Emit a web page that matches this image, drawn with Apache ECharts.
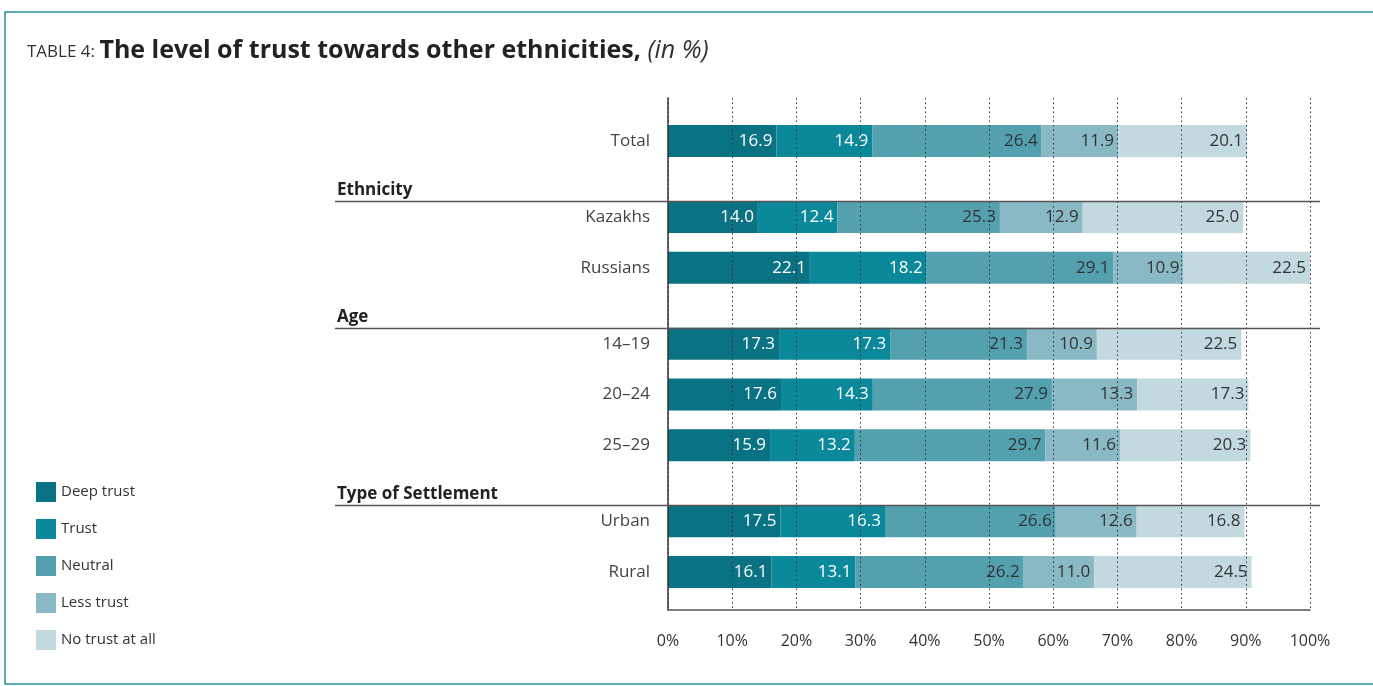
<!DOCTYPE html>
<html>
<head>
<meta charset="utf-8">
<script src="https://cdn.jsdelivr.net/npm/echarts@6/dist/echarts.min.js"></script>
<style>
  html, body { margin: 0; padding: 0; background: #fff; }
  #chart { width: 1373px; height: 686px; }
</style>
</head>
<body>
<div id="chart"></div>
<script>
// Row slots on the category axis: '' is spacing, '#' prefix marks a group heading
const rows = ['', 'Total', '', '#Ethnicity', 'Kazakhs', '', 'Russians', '', '#Age', '14–19', '', '20–24', '', '25–29', '', '#Type of Settlement', 'Urban', '', 'Rural', ''];

const seriesNames = ['Deep trust', 'Trust', 'Neutral', 'Less trust', 'No trust at all'];

// Values per group row, in %
const deepTrust = { 'Total': 16.9, 'Kazakhs': 14.0, 'Russians': 22.1, '14–19': 17.3, '20–24': 17.6, '25–29': 15.9, 'Urban': 17.5, 'Rural': 16.1 };
const trust     = { 'Total': 14.9, 'Kazakhs': 12.4, 'Russians': 18.2, '14–19': 17.3, '20–24': 14.3, '25–29': 13.2, 'Urban': 16.3, 'Rural': 13.1 };
const neutral   = { 'Total': 26.4, 'Kazakhs': 25.3, 'Russians': 29.1, '14–19': 21.3, '20–24': 27.9, '25–29': 29.7, 'Urban': 26.6, 'Rural': 26.2 };
const lessTrust = { 'Total': 11.9, 'Kazakhs': 12.9, 'Russians': 10.9, '14–19': 10.9, '20–24': 13.3, '25–29': 11.6, 'Urban': 12.6, 'Rural': 11.0 };
const noTrust   = { 'Total': 20.1, 'Kazakhs': 25.0, 'Russians': 22.5, '14–19': 22.5, '20–24': 17.3, '25–29': 20.3, 'Urban': 16.8, 'Rural': 24.5 };

const xTicks = [0, 10, 20, 30, 40, 50, 60, 70, 80, 90, 100];

const colors = ['#0a7383', '#0b899a', '#53a0af', '#89b9c4', '#c2dadf'];
const labelColors = ['#ffffff', '#ffffff', '#333333', '#333333', '#333333'];
const seriesValues = [deepTrust, trust, neutral, lessTrust, noTrust];

const FONT = '"Open Sans", "Noto Sans", sans-serif';
const BAR_W = 32;

const chart = echarts.init(document.getElementById('chart'), null, { renderer: 'canvas' });

const series = seriesNames.map((name, i) => ({
  name: name,
  type: 'bar',
  stack: 'trust',
  barWidth: BAR_W,
  xAxisIndex: 0,
  yAxisIndex: 0,
  itemStyle: { color: colors[i] },
  label: {
    show: true,
    position: 'insideRight',
    distance: 4,
    color: labelColors[i],
    fontFamily: FONT,
    fontSize: 17,
    formatter: p => p.value == null ? '' : p.value.toFixed(1)
  },
  data: rows.map(r => (seriesValues[i][r] !== undefined ? seriesValues[i][r] : null))
}));

chart.setOption({
  animation: false,
  textStyle: { fontFamily: FONT },
  title: {
    left: 27,
    top: 38,
    padding: 0,
    text: '{a|TABLE 4: }{b|The level of trust towards other ethnicities, }{c|(in %)}',
    textStyle: {
      fontWeight: 'normal',
      rich: {
        a: { fontFamily: FONT, fontSize: 17, fontWeight: 'normal', color: '#333', verticalAlign: 'bottom', padding: [0, 0, 2, 0] },
        b: { fontFamily: FONT, fontSize: 25, fontWeight: 'bold', color: '#222' },
        c: { fontFamily: FONT, fontSize: 25, fontWeight: 'normal', fontStyle: 'italic', color: '#333' }
      }
    }
  },
  legend: {
    orient: 'vertical',
    left: 36,
    top: 482,
    padding: 0,
    itemWidth: 20,
    itemHeight: 20,
    itemGap: 17,
    icon: 'rect',
    textStyle: { fontFamily: FONT, fontSize: 15, color: '#333' },
    data: seriesNames
  },
  grid: [
    // bars
    { left: 668, right: 63, top: 103, height: 507, containLabel: false },
    // axis frame and dotted guides
    { left: 668, right: 63, top: 98, height: 512, containLabel: false }
  ],
  xAxis: [
    {
      type: 'value', gridIndex: 0,
      min: xTicks[0], max: xTicks[xTicks.length - 1], interval: 10,
      axisLine: { show: false }, axisTick: { show: false }, splitLine: { show: false },
      axisLabel: { show: false }
    },
    {
      type: 'value', gridIndex: 1,
      min: xTicks[0], max: xTicks[xTicks.length - 1], interval: 10,
      z: 5,
      axisLine: { show: true, lineStyle: { color: '#555', width: 1.5 } },
      axisTick: { show: false },
      splitLine: { show: true, lineStyle: { color: '#333', width: 1, type: [1.5, 3] } },
      axisLabel: {
        margin: 23,
        fontFamily: FONT,
        fontSize: 16,
        color: '#333',
        formatter: v => v + '%'
      }
    }
  ],
  yAxis: [
    {
      type: 'category', gridIndex: 0,
      inverse: true,
      data: rows,
      axisLine: { show: false },
      axisTick: { show: false },
      splitLine: { show: false },
      axisLabel: {
        interval: 0,
        margin: 18,
        fontFamily: FONT,
        fontSize: 17,
        color: '#444',
        formatter: v => v.charAt(0) === '#' ? '{h|' + v.slice(1) + '}' : v,
        rich: {
          h: { fontFamily: FONT, fontSize: 17, fontWeight: 'bold', color: '#222', width: 313, align: 'left', padding: [0, 0, 3, 0] }
        }
      }
    },
    {
      type: 'category', gridIndex: 1,
      inverse: true,
      data: rows,
      z: 5,
      axisLine: { show: true, lineStyle: { color: '#333', width: 1.5 } },
      axisTick: { show: false },
      splitLine: { show: false },
      axisLabel: { show: false }
    }
  ],
  series: series
});

// Group separators: a rule along the top edge of the first bar in each group
const firstInGroup = rows.map((r, i) => (i > 0 && rows[i - 1].charAt(0) === '#') ? r : null).filter(Boolean);
const rightEdge = chart.convertToPixel({ xAxisIndex: 0 }, 100) + 10;
const graphics = firstInGroup.map(name => {
  const y = Math.round(chart.convertToPixel({ yAxisIndex: 0 }, name) - BAR_W / 2) + 0.5;
  return {
    type: 'line',
    z: 10,
    shape: { x1: 335, y1: y, x2: rightEdge, y2: y },
    style: { stroke: '#555', lineWidth: 1.5 }
  };
});
// Panel frame
graphics.push({
  type: 'polyline',
  z: 10,
  shape: { points: [[1373, 12], [5, 12], [5, 684], [1373, 684]] },
  style: { stroke: '#2f8e9c', lineWidth: 1.5, fill: null }
});
chart.setOption({ graphic: graphics });
</script>
</body>
</html>
